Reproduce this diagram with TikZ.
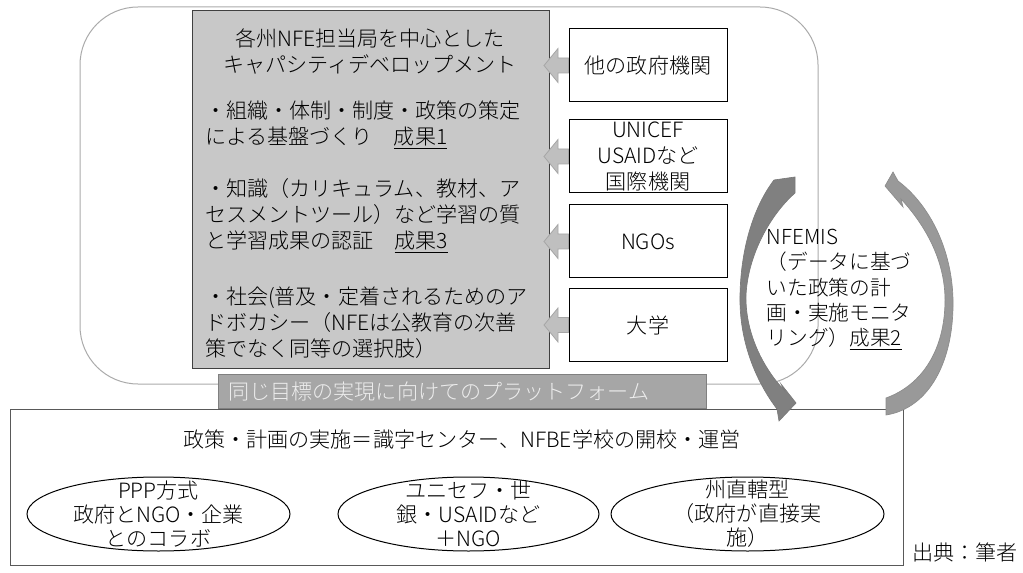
\documentclass[tikz,border=0pt]{standalone}
\usepackage{fontspec}
\setmainfont{Noto Sans CJK JP}[UprightFont=* Light]
\usetikzlibrary{calc}

\definecolor{boxgray}{RGB}{200,200,200}
\definecolor{platgray}{RGB}{166,166,166}
\definecolor{framegray}{RGB}{170,170,170}
\definecolor{arrowgray}{RGB}{191,191,191}
\definecolor{darkline}{RGB}{89,89,89}

\begin{document}
\begin{tikzpicture}[x=0.75pt,y=0.75pt,yscale=-1,xscale=1,
  every node/.style={font=\fontsize{15.8pt}{19.5pt}\selectfont, inner sep=0pt},
  sidebox/.style={draw=black, fill=white, line width=0.75pt, minimum width=118.5pt, minimum height=54.75pt, align=center},
  blockarrow/.style={fill=arrowgray, draw=black!35, line width=0.6pt},
  elltext/.style={align=center, font=\fontsize{15.8pt}{18pt}\selectfont}]
\useasboundingbox (0,0) rectangle (1023,573);

%Rounded frame
\draw [framegray, line width=0.75pt, rounded corners=43.5pt] (80,7) rectangle (818,384);

%Gray box
\node [draw=black!75, fill=boxgray, line width=0.75pt, anchor=north west, minimum width=267.75pt, minimum height=268.5pt] (gbox) at (192,10) {};
% Text Node
\node [align=center] (title) at (370,52) {各州NFE担当局を中心とした\\キャパシティデベロップメント};
% Text Node
\node [align=left, text width=247.5pt] (res1) at (370,125) {・組織・体制・制度・政策の策定\\による基盤づくり　\underline{成果1}};
% Text Node
\node [align=left, text width=247.5pt] (res3) at (370,216) {・知識（カリキュラム、教材、ア\\セスメントツール）など学習の質\\と学習成果の認証　\underline{成果3}};
% Text Node
\node [align=left, text width=247.5pt] (soc) at (370,323) {・社会(普及・定着されるためのア\\ドボカシー（NFEは公教育の次善\\策でなく同等の選択肢）};

%Side boxes
\node [sidebox] (gov) at (648,65.5) {他の政府機関};
\node [sidebox] (intl) at (648,156.5) {UNICEF\\USAIDなど\\国際機関};
\node [sidebox] (ngo) at (648,241.5) {NGOs};
\node [sidebox] (univ) at (648,325) {大学};

%Left Arrows
\filldraw [blockarrow] ($(gov.west)+(0,-7.5)$) -- ($(gbox.east |- gov.west)+(8,-7.5)$) -- ($(gbox.east |- gov.west)+(8,-17)$)
  -- ($(gbox.east |- gov.west)+(-6,0)$) -- ($(gbox.east |- gov.west)+(8,17)$) -- ($(gbox.east |- gov.west)+(8,7.5)$) -- ($(gov.west)+(0,7.5)$) -- cycle;
\filldraw [blockarrow] ($(intl.west)+(0,-7.5)$) -- ($(gbox.east |- intl.west)+(8,-7.5)$) -- ($(gbox.east |- intl.west)+(8,-17)$)
  -- ($(gbox.east |- intl.west)+(-6,0)$) -- ($(gbox.east |- intl.west)+(8,17)$) -- ($(gbox.east |- intl.west)+(8,7.5)$) -- ($(intl.west)+(0,7.5)$) -- cycle;
\filldraw [blockarrow] ($(ngo.west)+(0,-7.5)$) -- ($(gbox.east |- ngo.west)+(8,-7.5)$) -- ($(gbox.east |- ngo.west)+(8,-17)$)
  -- ($(gbox.east |- ngo.west)+(-6,0)$) -- ($(gbox.east |- ngo.west)+(8,17)$) -- ($(gbox.east |- ngo.west)+(8,7.5)$) -- ($(ngo.west)+(0,7.5)$) -- cycle;
\filldraw [blockarrow] ($(univ.west)+(0,-7.5)$) -- ($(gbox.east |- univ.west)+(8,-7.5)$) -- ($(gbox.east |- univ.west)+(8,-17)$)
  -- ($(gbox.east |- univ.west)+(-6,0)$) -- ($(gbox.east |- univ.west)+(8,17)$) -- ($(gbox.east |- univ.west)+(8,7.5)$) -- ($(univ.west)+(0,7.5)$) -- cycle;

%Platform label
\node [draw=black!50, fill=platgray, line width=0.75pt, anchor=north west, text width=351pt, inner xsep=7.5pt, minimum height=25.5pt, align=left, text=black!7] (plat) at (218,374) {同じ目標の実現に向けてのプラットフォーム};

%Bottom box
\node [draw=darkline, line width=1.1pt, anchor=north west, minimum width=669.75pt, minimum height=117pt] (impl) at (10,409) {};
% Text Node
\node (impltitle) at (462,440) {政策・計画の実施＝識字センター、NFBE学校の開校・運営};
% Text Node
\node [elltext] (ppp) at (158.5,514) {PPP方式\\政府とNGO・企業\\とのコラボ};
\draw [line width=0.75pt] (ppp) ellipse [x radius=131.5, y radius=37];
% Text Node
\node [elltext] (donor) at (468.5,514) {ユニセフ・世\\銀・USAIDなど\\＋NGO};
\draw [line width=0.75pt] (donor) ellipse [x radius=130.5, y radius=37];
% Text Node
\node [elltext] (state) at (747.5,514) {州直轄型\\（政府が直接実\\施）};
\draw [line width=0.75pt] (state) ellipse [x radius=136.5, y radius=37];

%Curved arrows
\filldraw [fill=black!50, draw=black!52, line width=0.5pt] (774,180) -- (795,177) -- (795,193)
  .. controls (770,215) and (748,255) .. (746,295) .. controls (745,335) and (765,370) .. (784,390)
  -- (781,384) -- (796,403) -- (779,421) -- (777,409)
  .. controls (755,380) and (739,340) .. (740,295) .. controls (741,245) and (755,205) .. (774,180) -- cycle;
\filldraw [fill=black!40, draw=black!45, line width=0.5pt] (886,398) -- (886,415)
  .. controls (930,408) and (954,360) .. (953,300) .. controls (952,250) and (930,205) .. (898,181)
  -- (893,172) -- (885,186) -- (903,207) -- (901,199)
  .. controls (925,225) and (945,260) .. (945,300) .. controls (945,350) and (922,385) .. (886,398) -- cycle;

% Text Node
\node [align=left, text width=115pt, font=\fontsize{15.5pt}{19pt}\selectfont] (emis) at (843.5,289.5) {NFEMIS\\（データに基づ\\いた政策の計\\画・実施モニタ\\リング）\underline{成果2}};
% Text Node
\node (src) at (965,552) {出典：筆者};
\end{tikzpicture}
\end{document}
